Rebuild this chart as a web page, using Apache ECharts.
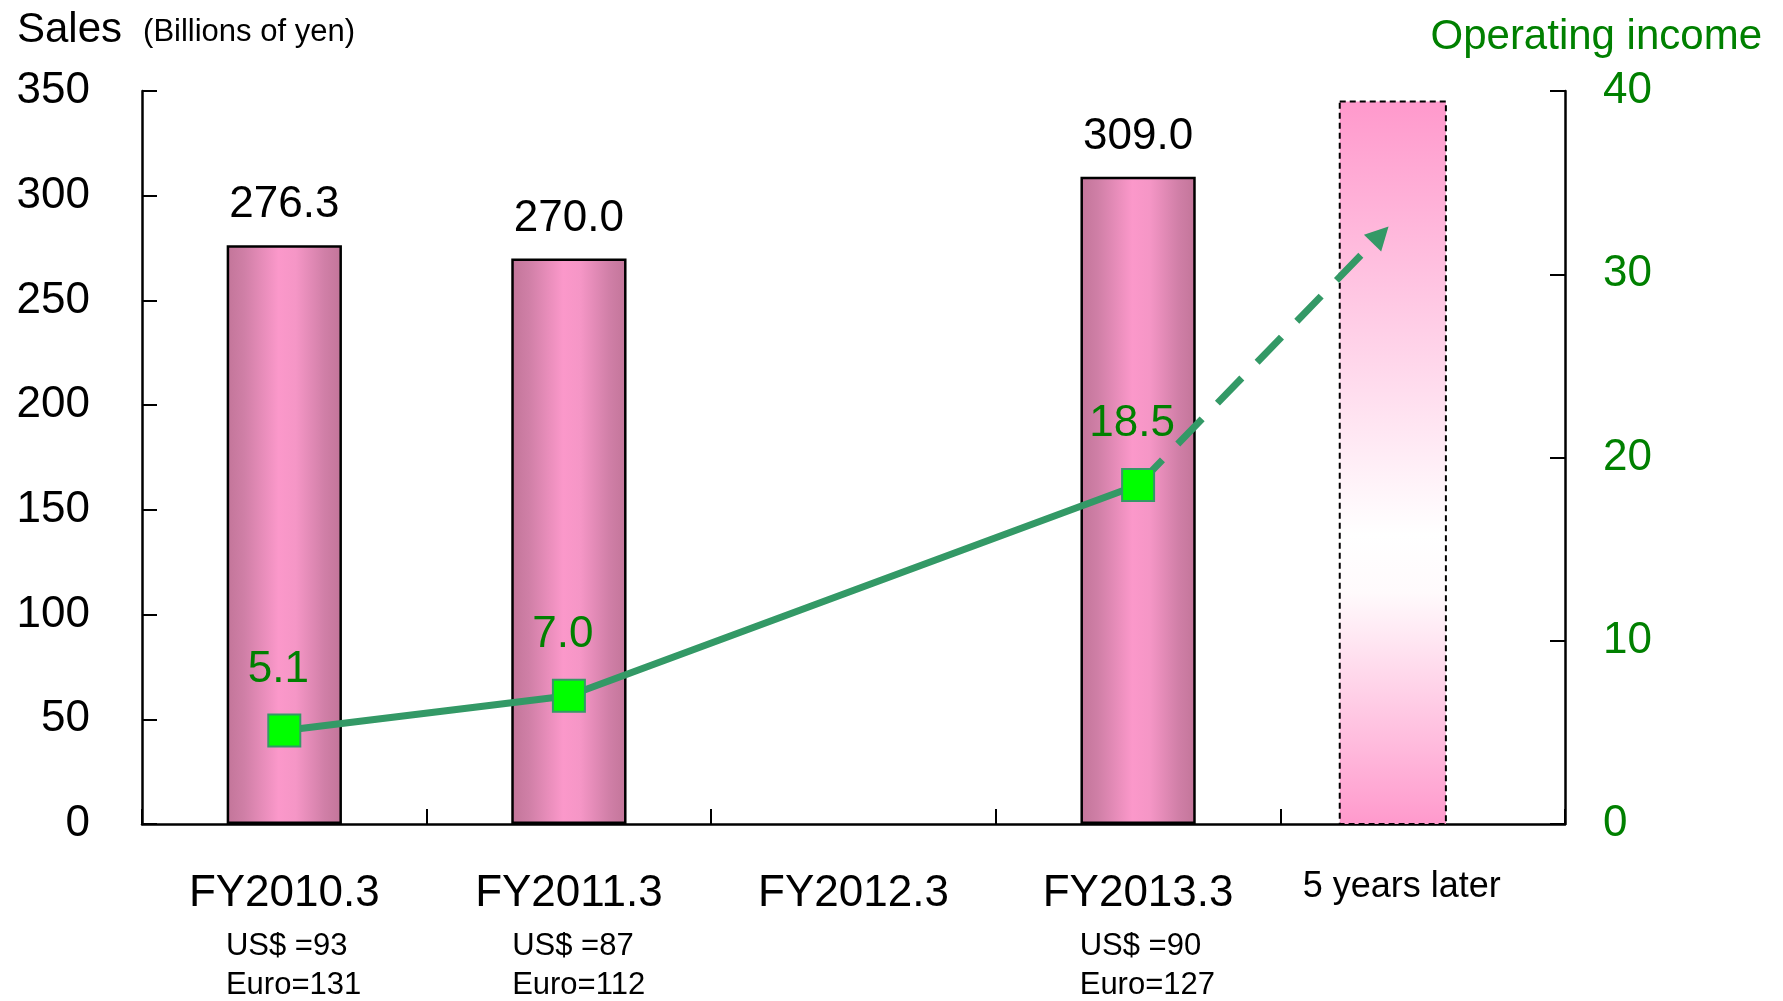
<!DOCTYPE html>
<html>
<head>
<meta charset="utf-8">
<script src="https://cdn.jsdelivr.net/npm/echarts@6/dist/echarts.min.js"></script>
<style>
  html, body { margin: 0; padding: 0; background: #fff; }
  #chart { width: 1783px; height: 1001px; }
</style>
</head>
<body>
<div id="chart"></div>
<script>
// Fiscal years on the category axis
const categories = ['FY2010.3', 'FY2011.3', 'FY2012.3', 'FY2013.3', '5 years later'];
// Sales, billions of yen (left axis)
const sales = [276.3, 270.0, null, 309.0, null];
// Operating income, billions of yen (right axis)
const operatingIncome = [5.1, 7.0, null, 18.5, null];
// Exchange rates shown under each fiscal year
const usdRate = [93, 87, null, 90, null];
const euroRate = [131, 112, null, 127, null];
// Axis ranges
const salesAxis = { min: 0, max: 350, interval: 50 };
const incomeAxis = { min: 0, max: 40, interval: 10 };
// Five-year outlook: target bar and arrow end point
const outlookIndex = 4;
const outlookSales = 345;
const outlookIncome = 32.6;

const FONT = '"Liberation Sans", Arial, Helvetica, sans-serif';
const GREEN_TEXT = '#008000';
const LINE_GREEN = '#339966';

const chart = echarts.init(document.getElementById('chart'), null, { renderer: 'canvas' });

const barGradient = {
  type: 'linear', x: 0, y: 0, x2: 1, y2: 0,
  colorStops: [
    { offset: 0, color: '#c27599' },
    { offset: 0.15, color: '#cf7fa6' },
    { offset: 0.45, color: '#fb98ca' },
    { offset: 0.6, color: '#f596c6' },
    { offset: 0.85, color: '#d07fa7' },
    { offset: 1, color: '#c27599' }
  ]
};

const outlookGradient = {
  type: 'linear', x: 0, y: 0, x2: 0, y2: 1,
  colorStops: [
    { offset: 0, color: '#ff99cc' },
    { offset: 0.6, color: '#ffffff' },
    { offset: 0.68, color: '#fffafc' },
    { offset: 1, color: '#ff99cc' }
  ]
};

function xLabel(value, index) {
  if (index === outlookIndex) return '{far|' + value + '}';
  if (usdRate[index] == null) return '{main|' + value + '}';
  return '{main|' + value + '}\n{sub|US$ =' + usdRate[index] + '}\n{sub|Euro=' + euroRate[index] + '}';
}

const option = {
  animation: false,
  backgroundColor: '#ffffff',
  textStyle: { fontFamily: FONT },
  title: [
    {
      left: 17, top: 9, padding: 0,
      text: '{a|Sales}{b|(Billions of yen)}',
      textStyle: {
        fontWeight: 'normal',
        rich: {
          a: { fontFamily: FONT, fontSize: 42, fontWeight: 'normal', lineHeight: 42, color: '#000' },
          b: { fontFamily: FONT, fontSize: 31, fontWeight: 'normal', lineHeight: 42, color: '#000', padding: [4, 0, 0, 21] }
        }
      }
    },
    {
      right: 21, top: 16, padding: 0,
      text: 'Operating income',
      textStyle: { fontFamily: FONT, fontSize: 42, fontWeight: 'normal', color: GREEN_TEXT, lineHeight: 42 }
    }
  ],
  grid: { left: 142, right: 218, top: 91, bottom: 174, containLabel: false },
  xAxis: {
    type: 'category',
    data: categories,
    boundaryGap: true,
    axisLine: { lineStyle: { color: '#000', width: 2.5 } },
    axisTick: { show: true, inside: true, length: 15, lineStyle: { color: '#000', width: 2 } },
    axisLabel: {
      interval: 0,
      margin: 37,
      color: '#000',
      fontFamily: FONT,
      formatter: xLabel,
      rich: {
        main: { fontFamily: FONT, fontSize: 44, lineHeight: 66, color: '#000' },
        sub: { fontFamily: FONT, fontSize: 31, lineHeight: 39, color: '#000', align: 'left', padding: [0, 0, 0, 37] },
        far: { fontFamily: FONT, fontSize: 36, lineHeight: 52, color: '#000', padding: [0, 42, 0, 0] }
      }
    },
    splitLine: { show: false }
  },
  yAxis: [
    {
      type: 'value',
      min: salesAxis.min, max: salesAxis.max, interval: salesAxis.interval,
      position: 'left',
      axisLine: { show: true, lineStyle: { color: '#000', width: 2.5 } },
      axisTick: { show: true, inside: true, length: 15, lineStyle: { color: '#000', width: 2 } },
      axisLabel: { margin: 52, fontFamily: FONT, fontSize: 44, color: '#000' },
      splitLine: { show: false }
    },
    {
      type: 'value',
      min: incomeAxis.min, max: incomeAxis.max, interval: incomeAxis.interval,
      position: 'right',
      axisLine: { show: true, lineStyle: { color: '#000', width: 2.5 } },
      axisTick: { show: true, inside: true, length: 15, lineStyle: { color: '#000', width: 2 } },
      axisLabel: { margin: 38, fontFamily: FONT, fontSize: 44, color: GREEN_TEXT },
      splitLine: { show: false }
    }
  ],
  series: [
    {
      name: 'Outlook',
      type: 'custom',
      xAxisIndex: 0,
      yAxisIndex: 0,
      z: 1,
      encode: { x: 0, y: 1 },
      data: [[outlookIndex, outlookSales]],
      renderItem: function (params, api) {
        const band = api.size([1, 0])[0];
        const top = api.coord([api.value(0), api.value(1)]);
        const base = api.coord([api.value(0), 0]);
        const w = band * 0.373;
        const cx = top[0] - band * 0.105;
        return {
          type: 'rect',
          shape: { x: cx - w / 2, y: top[1], width: w, height: base[1] - top[1] },
          style: { fill: outlookGradient, stroke: '#000', lineWidth: 2, lineDash: [6, 4] }
        };
      }
    },
    {
      name: 'Sales',
      type: 'bar',
      yAxisIndex: 0,
      z: 2,
      barWidth: '40.5%',
      data: sales,
      itemStyle: { color: barGradient, borderColor: '#000', borderWidth: 2.5 },
      label: {
        show: true,
        position: 'top',
        distance: 18,
        fontFamily: FONT,
        fontSize: 44,
        lineHeight: 44,
        color: '#000',
        formatter: function (p) { return p.value == null ? '' : Number(p.value).toFixed(1); }
      }
    },
    {
      name: 'Outlook arrow',
      type: 'custom',
      xAxisIndex: 0,
      yAxisIndex: 1,
      z: 3,
      encode: { x: 0, y: [1, 2] },
      data: [[3, operatingIncome[3], outlookIncome]],
      renderItem: function (params, api) {
        const band = api.size([1, 0])[0];
        const start = api.coord([api.value(0), api.value(1)]);
        const endRaw = api.coord([outlookIndex, api.value(2)]);
        const tip = [endRaw[0] - band * 0.12, endRaw[1]];
        const dx = tip[0] - start[0], dy = tip[1] - start[1];
        const len = Math.hypot(dx, dy);
        const ux = dx / len, uy = dy / len;
        const headLen = 23, headHalf = 12;
        const bx = tip[0] - ux * headLen, by = tip[1] - uy * headLen;
        const nx = -uy, ny = ux;
        return {
          type: 'group',
          children: [
            {
              type: 'line',
              shape: { x1: start[0], y1: start[1], x2: bx, y2: by },
              style: { stroke: LINE_GREEN, lineWidth: 7, lineDash: [35, 22], lineCap: 'butt' }
            },
            {
              type: 'polygon',
              shape: { points: [tip, [bx + nx * headHalf, by + ny * headHalf], [bx - nx * headHalf, by - ny * headHalf]] },
              style: { fill: LINE_GREEN }
            }
          ]
        };
      }
    },
    {
      name: 'Operating income',
      type: 'line',
      yAxisIndex: 1,
      z: 4,
      data: operatingIncome,
      connectNulls: true,
      symbol: 'rect',
      symbolSize: 32,
      lineStyle: { color: LINE_GREEN, width: 7 },
      itemStyle: { color: '#00ff00', borderColor: LINE_GREEN, borderWidth: 2 },
      label: {
        show: true,
        position: 'top',
        distance: 22,
        offset: [-6, 0],
        fontFamily: FONT,
        fontSize: 44,
        lineHeight: 44,
        color: GREEN_TEXT,
        formatter: function (p) { return p.value == null ? '' : Number(p.value).toFixed(1); }
      }
    }
  ]
};

chart.setOption(option);
</script>
</body>
</html>
